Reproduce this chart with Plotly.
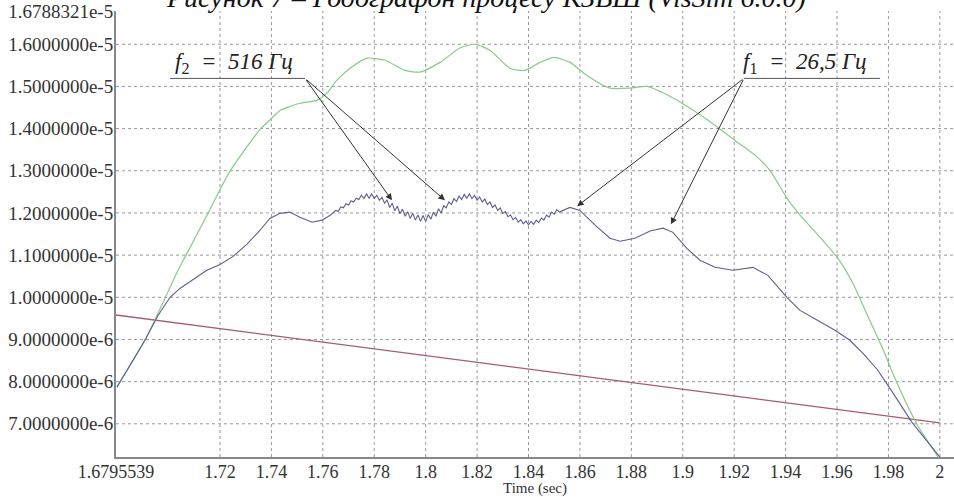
import plotly.graph_objects as go

# ---------------- data (values in 1e-6 units) ----------------
green_t = [1.6799, 1.6908, 1.7037, 1.7068, 1.7153, 1.7239, 1.7356, 1.7402, 1.7433, 1.7511,
           1.7577, 1.7616, 1.7655, 1.7706, 1.7772, 1.7842, 1.7920, 1.7978, 1.8056, 1.8133,
           1.8192, 1.8250, 1.8328, 1.8386, 1.8445, 1.8499, 1.8561, 1.8627, 1.8717, 1.8795,
           1.8861, 1.8919, 1.8978, 1.9086, 1.9203, 1.9281, 1.9339, 1.9405, 1.9456, 1.9530,
           1.9600, 1.9660, 1.9720, 1.9780, 1.9820, 1.9910, 1.9993]
green_v = [7.87, 8.98, 10.64, 11.00, 11.99, 12.99, 13.98, 14.25, 14.43, 14.60,
           14.67, 14.84, 15.15, 15.43, 15.67, 15.62, 15.38, 15.34, 15.57, 15.91,
           16.00, 15.86, 15.43, 15.38, 15.57, 15.69, 15.57, 15.26, 14.96, 14.96,
           15.00, 14.86, 14.67, 14.25, 13.72, 13.37, 13.01, 12.35, 11.95, 11.45,
           10.95, 10.35, 9.55, 8.75, 8.15, 7.00, 6.21]

blue_t = [1.6799, 1.6908, 1.6959, 1.7006, 1.7044, 1.7103, 1.7149, 1.7200, 1.7251, 1.7305,
          1.7356, 1.7394, 1.7433, 1.7472, 1.7511, 1.7558, 1.7597, 1.7630,
          1.765, 1.766, 1.767, 1.768, 1.769, 1.770, 1.771, 1.772, 1.773, 1.774,
          1.775, 1.776, 1.777, 1.778, 1.779, 1.780, 1.781, 1.782, 1.783, 1.784,
          1.785, 1.786, 1.787, 1.788, 1.789, 1.790, 1.791, 1.792, 1.793, 1.794,
          1.795, 1.796, 1.797, 1.798, 1.799, 1.800, 1.801, 1.802, 1.803, 1.804,
          1.805, 1.806, 1.807, 1.808, 1.809, 1.810, 1.811, 1.812, 1.813, 1.814,
          1.815, 1.816, 1.817, 1.818, 1.819, 1.820, 1.821, 1.822, 1.823, 1.824,
          1.825, 1.826, 1.827, 1.828, 1.829, 1.830, 1.831, 1.832, 1.833, 1.834,
          1.835, 1.836, 1.837, 1.838, 1.839, 1.840, 1.841, 1.842, 1.843, 1.844,
          1.845, 1.846, 1.847, 1.848, 1.849, 1.850, 1.851, 1.852,
          1.8561, 1.8600, 1.8659, 1.8717, 1.8756, 1.8814, 1.8873, 1.8923, 1.8962, 1.9016,
          1.9067, 1.9125, 1.9195, 1.9273, 1.9331, 1.9405, 1.9456, 1.9522, 1.9592, 1.9650,
          1.9701, 1.9755, 1.9806, 1.9891, 2.0000]
blue_v = [7.87, 8.98, 9.57, 10.00, 10.21, 10.45, 10.64, 10.78, 10.97, 11.26,
          11.59, 11.87, 11.99, 12.02, 11.90, 11.78, 11.83, 11.95,
          12.06, 12.04, 12.14, 12.12, 12.22, 12.19, 12.29, 12.26, 12.35, 12.32,
          12.42, 12.34, 12.45, 12.35, 12.45, 12.34, 12.42, 12.30, 12.37, 12.23,
          12.31, 12.13, 12.23, 12.05, 12.16, 11.98, 12.09, 11.92, 12.03, 11.87,
          11.99, 11.83, 11.95, 11.80, 11.94, 11.80, 11.96, 11.85, 12.02, 11.92,
          12.10, 12.00, 12.17, 12.12, 12.26, 12.20, 12.34, 12.27, 12.40, 12.32,
          12.44, 12.35, 12.45, 12.34, 12.42, 12.30, 12.38, 12.26, 12.33, 12.20,
          12.26, 12.13, 12.19, 12.06, 12.12, 11.99, 12.03, 11.91, 11.95, 11.84,
          11.89, 11.78, 11.84, 11.74, 11.81, 11.72, 11.80, 11.73, 11.83, 11.77,
          11.88, 11.83, 11.95, 11.90, 12.02, 11.97, 12.08, 12.02,
          12.13, 12.06, 11.71, 11.40, 11.33, 11.40, 11.57, 11.64, 11.54, 11.16,
          10.88, 10.71, 10.64, 10.71, 10.52, 10.00, 9.69, 9.46, 9.22, 8.98,
          8.67, 8.30, 7.84, 7.04, 6.21]

red_t = [1.6795539, 2.0]
red_v = [9.58, 7.02]

y_tick_vals = [7, 8, 9, 10, 11, 12, 13, 14, 15, 16, 16.788321]
y_tick_text = ["7.0000000e-6", "8.0000000e-6", "9.0000000e-6", "1.0000000e-5",
               "1.1000000e-5", "1.2000000e-5", "1.3000000e-5", "1.4000000e-5",
               "1.5000000e-5", "1.6000000e-5", "1.6788321e-5"]
x_tick_vals = [1.6795539, 1.72, 1.74, 1.76, 1.78, 1.8, 1.82, 1.84, 1.86, 1.88,
               1.9, 1.92, 1.94, 1.96, 1.98, 2.0]
x_tick_text = ["1.6795539", "1.72", "1.74", "1.76", "1.78", "1.8", "1.82", "1.84",
               "1.86", "1.88", "1.9", "1.92", "1.94", "1.96", "1.98", "2"]
y_grid = [7, 8, 9, 10, 11, 12, 13, 14, 15, 16]
x_grid = [1.72, 1.74, 1.76, 1.78, 1.8, 1.82, 1.84, 1.86, 1.88, 1.9, 1.92, 1.94, 1.96, 1.98, 2.0]

scale = 1e-6
SERIF = "Liberation Serif"

fig = go.Figure()
fig.add_trace(go.Scatter(x=red_t, y=[v * scale for v in red_v], mode="lines",
                         line=dict(color="#a85a70", width=1.3), hoverinfo="skip"))
fig.add_trace(go.Scatter(x=green_t, y=[v * scale for v in green_v], mode="lines",
                         line=dict(color="#86cc86", width=1.2, shape="spline", smoothing=0.6),
                         hoverinfo="skip"))
fig.add_trace(go.Scatter(x=blue_t, y=[v * scale for v in blue_v], mode="lines",
                         line=dict(color="#5e5e92", width=1.1), hoverinfo="skip"))

shapes = []
for v in y_grid:
    shapes.append(dict(type="line", xref="paper", x0=0, x1=1, yref="y", y0=v * scale, y1=v * scale,
                       line=dict(color="#999999", width=1, dash="dot"), layer="below"))
for t in x_grid:
    shapes.append(dict(type="line", yref="paper", y0=0, y1=1, xref="x", x0=t, x1=t,
                       line=dict(color="#999999", width=1, dash="dot"), layer="below"))

# underlines of the labels
shapes.append(dict(type="line", xref="x", yref="y", x0=1.7006, x1=1.7531,
                   y0=15.19 * scale, y1=15.19 * scale, line=dict(color="#555", width=1)))
shapes.append(dict(type="line", xref="x", yref="y", x0=1.9238, x1=1.9767,
                   y0=15.19 * scale, y1=15.19 * scale, line=dict(color="#555", width=1)))

annotations = []
# arrows f2
for (tx, ty) in [(1.7869, 12.30), (1.8075, 12.30)]:
    annotations.append(dict(x=tx, y=ty * scale, ax=1.7531, ay=15.19 * scale,
                            xref="x", yref="y", axref="x", ayref="y", text="",
                            showarrow=True, arrowhead=2, arrowsize=1.3, arrowwidth=1,
                            arrowcolor="#333"))
# arrows f1
for (tx, ty) in [(1.8589, 12.16), (1.8954, 11.73)]:
    annotations.append(dict(x=tx, y=ty * scale, ax=1.9238, ay=15.19 * scale,
                            xref="x", yref="y", axref="x", ayref="y", text="",
                            showarrow=True, arrowhead=2, arrowsize=1.3, arrowwidth=1,
                            arrowcolor="#333"))
annotations.append(dict(x=1.7254, y=15.55 * scale, xref="x", yref="y", showarrow=False,
                        text="<i>f</i><sub>2</sub><i>  =  516 Гц</i>",
                        font=dict(family=SERIF, size=23, color="#222")))
annotations.append(dict(x=1.9475, y=15.55 * scale, xref="x", yref="y", showarrow=False,
                        text="<i>f</i><sub>1</sub><i>  =  26,5 Гц</i>",
                        font=dict(family=SERIF, size=23, color="#222")))
# title (cut at the top in the original)
annotations.append(dict(x=0.441, y=1, xref="paper", yref="paper", xanchor="center",
                        yanchor="bottom", yshift=-4, showarrow=False,
                        text="<i>Рисунок 7 – Годографон процесу КЗВШ (VisSim 6.0.0)</i>",
                        font=dict(family=SERIF, size=28, color="#111")))
# x-axis title
annotations.append(dict(x=0.5, y=0, xref="paper", yref="paper", xanchor="center",
                        yanchor="middle", yshift=-31, showarrow=False,
                        text="Time (sec)", font=dict(family=SERIF, size=15, color="#333")))

fig.update_layout(
    width=954, height=497,
    margin=dict(l=116, r=0, t=11, b=40),
    paper_bgcolor="white", plot_bgcolor="white",
    showlegend=False,
    shapes=shapes, annotations=annotations,
    xaxis=dict(range=[1.6795539, 2.0055], tickvals=x_tick_vals, ticktext=x_tick_text,
               showgrid=False, zeroline=False, showline=True, linecolor="#888", linewidth=2,
               ticks="", ticklabelstandoff=-3,
               tickfont=dict(family=SERIF, size=18, color="#333")),
    yaxis=dict(range=[6.2128e-6, 16.788321e-6], tickvals=[v * scale for v in y_tick_vals],
               ticktext=y_tick_text, showgrid=False, zeroline=False, showline=True,
               linecolor="#888", linewidth=2, ticks="", ticklabelstandoff=-3,
               tickfont=dict(family=SERIF, size=19, color="#333")),
)

fig.write_html("out.html", config={"displayModeBar": False},
               post_script="document.body.style.margin='0';")
